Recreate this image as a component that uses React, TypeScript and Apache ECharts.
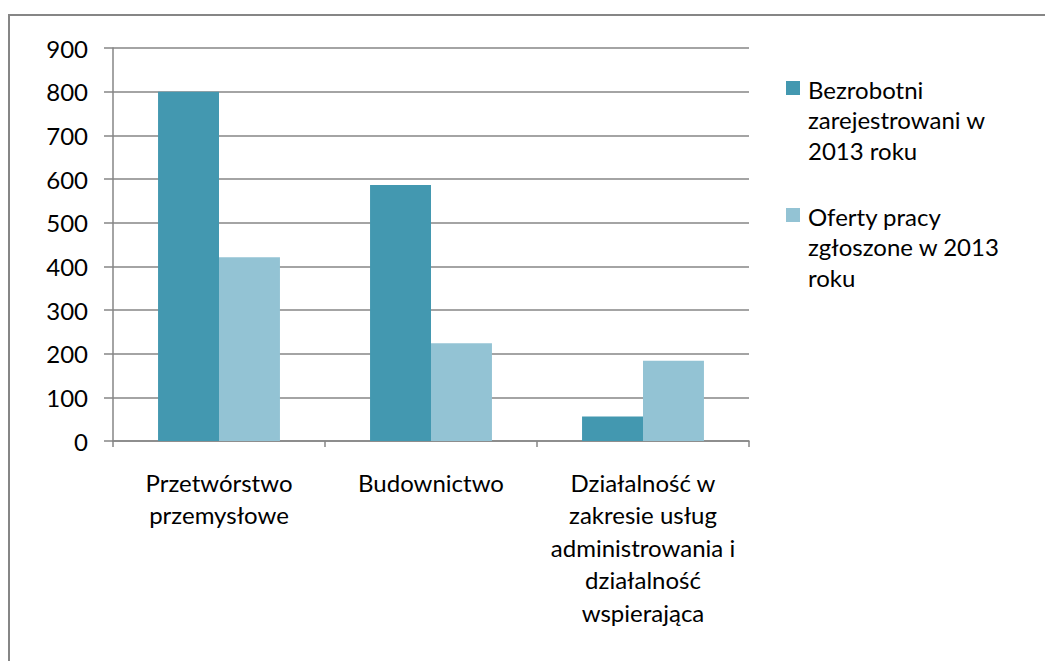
import React, { useEffect, useRef } from "react";
import * as echarts from "echarts";

const categories = [
  "Przetwórstwo\nprzemysłowe",
  "Budownictwo",
  "Działalność w\nzakresie usług\nadministrowania i\ndziałalność\nwspierająca",
];
const seriesNames = ["Bezrobotni\nzarejestrowani w\n2013 roku", "Oferty pracy\nzgłoszone w 2013\nroku"];
const unemployed = [800, 586, 56];
const offers = [421, 224, 184];
const colors = ["#4398B0", "#93C3D4"];
const yMax = 900;
const yInterval = 100;

const FONT = "Lato";
const FS = 24;

export default function App() {
  const ref = useRef<HTMLDivElement>(null);
  useEffect(() => {
    const chart = echarts.init(ref.current!, null, { renderer: "svg" });
    const legendGraphics: any[] = [];
    const legendTops = [81, 208];
    seriesNames.forEach((name, i) => {
      legendGraphics.push({
        type: "rect",
        shape: { x: 786, y: legendTops[i], width: 14, height: 14 },
        style: { fill: colors[i] },
      });
      legendGraphics.push({
        type: "text",
        x: 808,
        y: legendTops[i] - 7,
        style: {
          text: name,
          font: `${FS}px ${FONT}`,
          fill: "#000",
          lineHeight: 30.5,
          textVerticalAlign: "top",
        },
      });
    });
    chart.setOption({
      animation: false,
      textStyle: { fontFamily: FONT },
      grid: { left: 113, right: 296, top: 48, bottom: 220 },
      xAxis: {
        type: "category",
        data: categories,
        axisLine: { lineStyle: { color: "#868686", width: 1.5 } },
        axisTick: { show: true, length: 6, interval: 0, lineStyle: { color: "#868686", width: 1.5 } },
        axisLabel: {
          interval: 0,
          color: "#000",
          fontSize: FS,
          fontFamily: FONT,
          lineHeight: 32.5,
          margin: 25,
        },
      },
      yAxis: {
        type: "value",
        min: 0,
        max: yMax,
        interval: yInterval,
        axisLine: { show: true, lineStyle: { color: "#868686", width: 1.5 } },
        axisTick: { show: true, length: 9, lineStyle: { color: "#868686", width: 1.5 } },
        splitLine: { lineStyle: { color: "#868686", width: 1.5 } },
        axisLabel: { color: "#000", fontSize: FS, fontFamily: FONT, margin: 25 },
      },
      series: [
        {
          type: "bar",
          name: seriesNames[0],
          data: unemployed,
          itemStyle: { color: colors[0] },
          barGap: "0%",
          barCategoryGap: "42.5%",
        },
        {
          type: "bar",
          name: seriesNames[1],
          data: offers,
          itemStyle: { color: colors[1] },
          barGap: "0%",
          barCategoryGap: "42.5%",
        },
      ],
      graphic: [
        {
          type: "rect",
          shape: { x: 9, y: 15, width: 1100, height: 700 },
          style: { fill: "none", stroke: "#868686", lineWidth: 2 },
          silent: true,
        },
        ...legendGraphics,
      ],
    });
    return () => chart.dispose();
  }, []);
  return (
    <div
      ref={ref}
      style={{ position: "fixed", left: 0, top: 0, width: 1045, height: 661, background: "#fff" }}
    />
  );
}
